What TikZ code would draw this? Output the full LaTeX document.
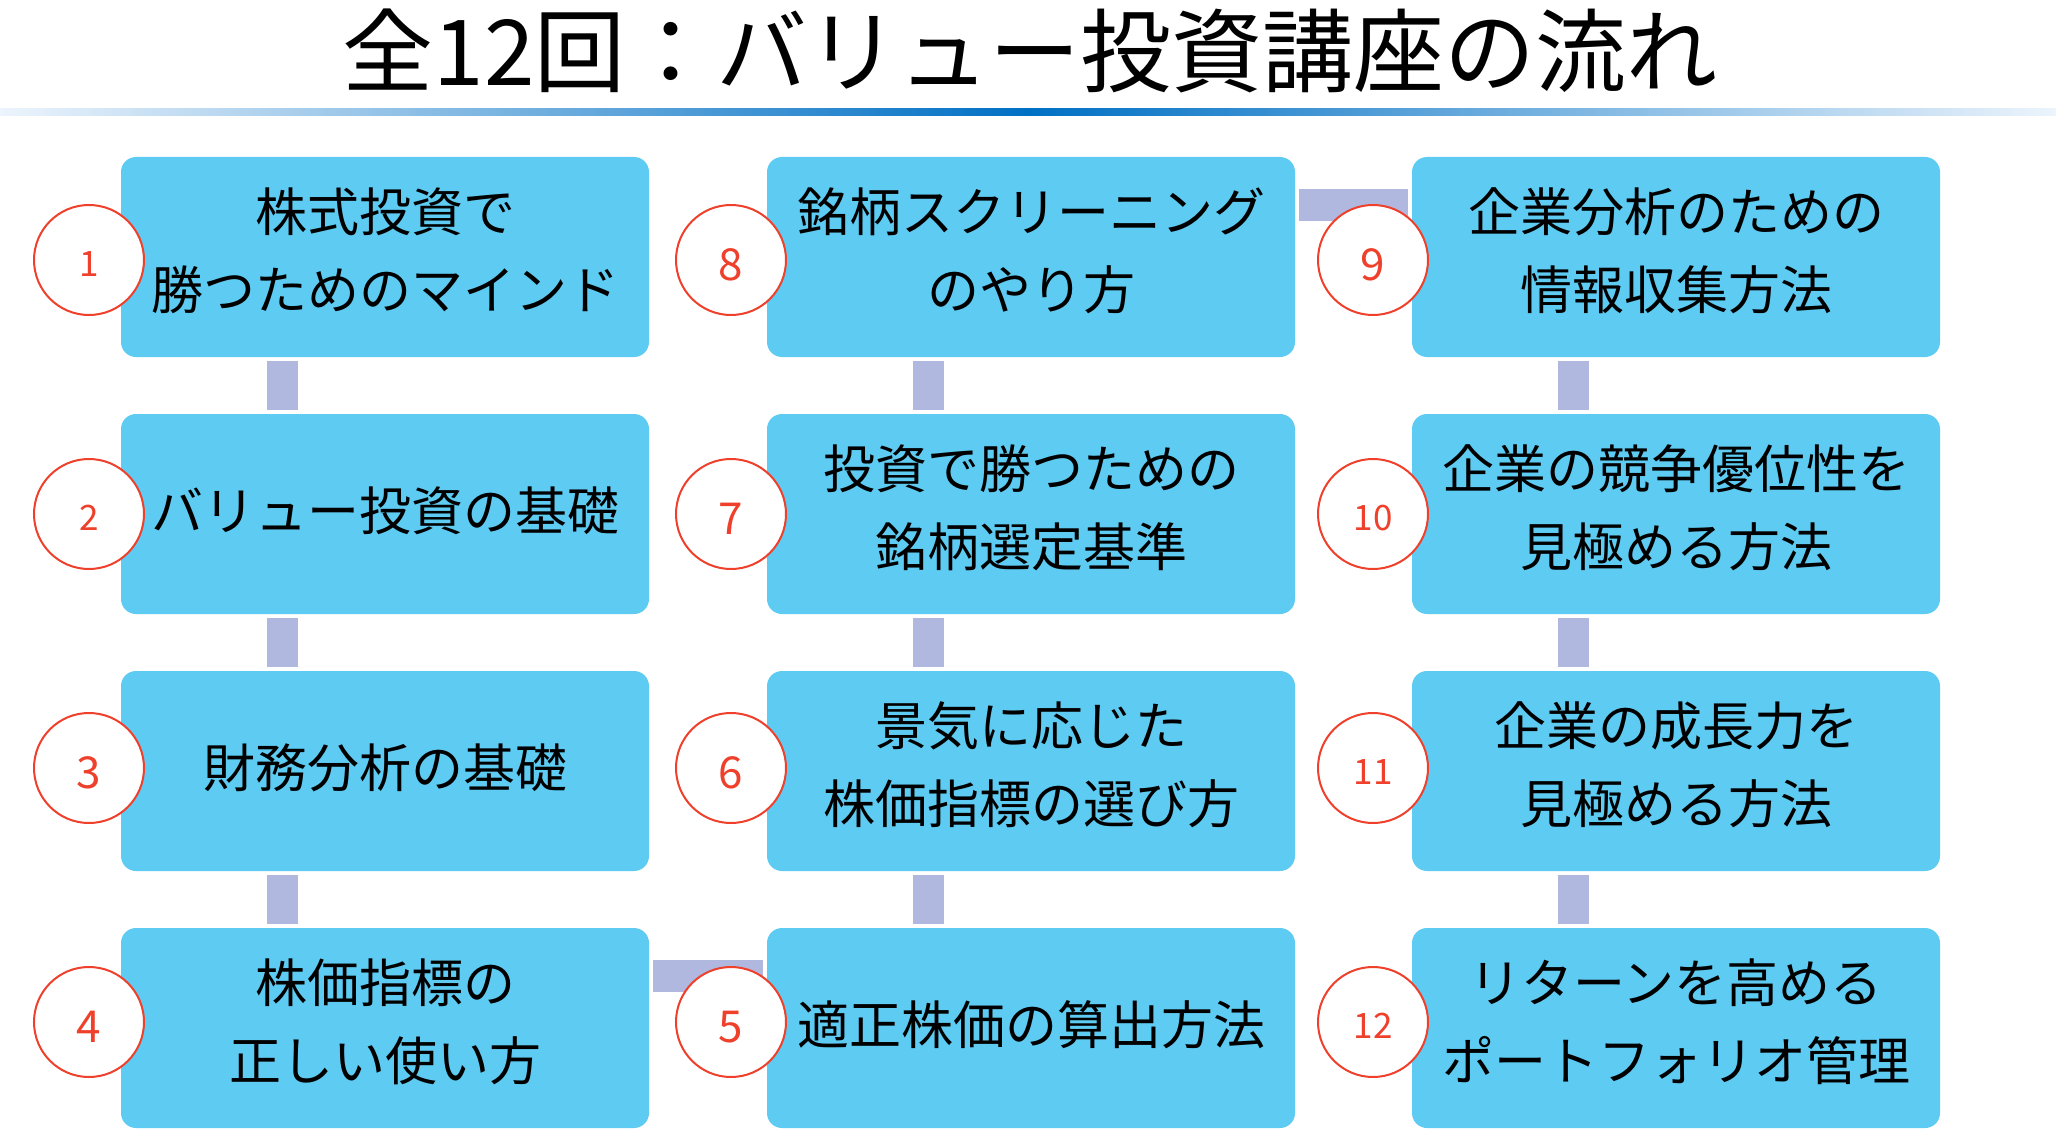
\documentclass[tikz,border=0pt]{standalone}
\usepackage{fontspec}
\setmainfont{Noto Sans CJK JP}
\definecolor{boxblue}{RGB}{94,203,242}
\definecolor{conncol}{RGB}{177,184,224}
\definecolor{numred}{RGB}{238,64,42}
\definecolor{bardark}{RGB}{0,112,196}
\definecolor{barlight}{RGB}{236,244,252}
\begin{document}
\begin{tikzpicture}[x=1pt,y=-1pt,
 box/.style={rectangle, rounded corners=15pt, fill=boxblue, minimum width=528pt, minimum height=200pt, inner sep=0pt},
 txt/.style={inner sep=0pt, align=center, font=\fontsize{52}{78}\selectfont, text=black},
 num/.style={circle, draw=numred, line width=2pt, fill=white, minimum size=110pt, inner sep=0pt},
 numtxt/.style={inner sep=0pt, text=numred, font=\fontsize{44}{44}\selectfont},
 numtxtsmall/.style={numtxt, font=\fontsize{35}{35}\selectfont},
 conn/.style={draw=conncol, line width=31pt},
 hconn/.style={draw=conncol, line width=32pt},
]
\useasboundingbox (0,0) rectangle (2056,1129);
\fill[white] (0,0) rectangle (2056,1129);
% title
\node[inner sep=0pt, font=\fontsize{91}{91}\selectfont] (title) at (1030,51) {全12回：バリュー投資講座の流れ};
\shade[left color=barlight, right color=barlight, middle color=bardark] (0,109) rectangle (2056,116);
% boxes
\node[box] (b1) at (385,257) {};
\node[box] (b2) at (385,514) {};
\node[box] (b3) at (385,771) {};
\node[box] (b4) at (385,1028) {};
\node[box] (b8) at (1031,257) {};
\node[box] (b7) at (1031,514) {};
\node[box] (b6) at (1031,771) {};
\node[box] (b5) at (1031,1028) {};
\node[box] (b9) at (1676,257) {};
\node[box] (b10) at (1676,514) {};
\node[box] (b11) at (1676,771) {};
\node[box] (b12) at (1676,1028) {};
% box texts
\node[txt] (t1) at ([yshift=6pt]b1.center) {株式投資で\\勝つためのマインド};
\node[txt] (t2) at ([yshift=3pt]b2.center) {バリュー投資の基礎};
\node[txt] (t3) at ([yshift=3pt]b3.center) {財務分析の基礎};
\node[txt] (t4) at ([yshift=6pt]b4.center) {株価指標の\\正しい使い方};
\node[txt] (t8) at ([yshift=6pt]b8.center) {銘柄スクリーニング\\のやり方};
\node[txt] (t7) at ([yshift=6pt]b7.center) {投資で勝つための\\銘柄選定基準};
\node[txt] (t6) at ([yshift=6pt]b6.center) {景気に応じた\\株価指標の選び方};
\node[txt] (t5) at ([yshift=3pt]b5.center) {適正株価の算出方法};
\node[txt] (t9) at ([yshift=6pt]b9.center) {企業分析のための\\情報収集方法};
\node[txt] (t10) at ([yshift=6pt]b10.center) {企業の競争優位性を\\見極める方法};
\node[txt] (t11) at ([yshift=6pt]b11.center) {企業の成長力を\\見極める方法};
\node[txt] (t12) at ([yshift=6pt]b12.center) {リターンを高める\\ポートフォリオ管理};
% vertical connectors
\foreach \a/\b in {b1/b2,b2/b3,b3/b4,b8/b7,b7/b6,b6/b5,b9/b10,b10/b11,b11/b12}{
  \draw[conn] ([xshift=162pt,yshift=-4pt]\a.south west) -- ([xshift=162pt,yshift=4pt]\b.north west);
}
% horizontal connectors
\draw[hconn] ([xshift=4pt,yshift=-48pt]b8.north east) -- ([xshift=-4pt,yshift=-48pt]b9.north west);
\draw[hconn] ([xshift=4pt,yshift=-48pt]b4.north east) -- ([xshift=-4pt,yshift=-48pt]b5.north west);
% number circles
\foreach \n/\x/\y in {1/89/260,2/89/514,3/89/768,4/89/1022,8/731/260,7/731/514,6/731/768,5/731/1022,9/1373/260,10/1373/514,11/1373/768,12/1373/1022}{
  \node[num] (c\n) at (\x,\y) {};
}
\foreach \n in {3,4,5,6,7,8,9}{
  \node[numtxt] (n\n) at ([yshift=-5pt]c\n.center) {\n};
}
\foreach \n in {1,2,10,11,12}{
  \node[numtxtsmall] (n\n) at ([yshift=-4pt]c\n.center) {\n};
}
\end{tikzpicture}
\end{document}
